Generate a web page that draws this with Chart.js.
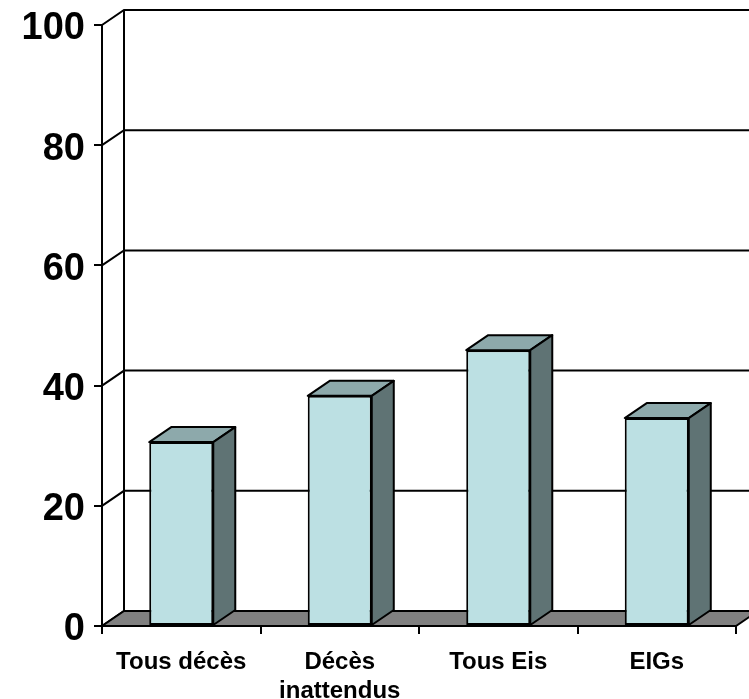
<!DOCTYPE html>
<html>
<head>
<meta charset="utf-8">
<script src="https://cdn.jsdelivr.net/npm/chart.js@4/dist/chart.umd.min.js"></script>
<style>
    body { margin: 0; background: #fff; }
</style>
</head>
<body>
<canvas id="myChart" width="749" height="699"></canvas>
<script>
let categories = [
    ['Tous décès'],
    ['Décès', 'inattendus'],
    ['Tous Eis'],
    ['EIGs']
];
let values = [30.6, 38.3, 45.9, 34.6];
let yTicks = [0, 20, 40, 60, 80, 100];

// depth of the fake 3d box
let depthX = 22;
let depthY = 15;

let frontColor = '#bce0e3';
let topColor = '#8da9ab';
let sideColor = '#5f7374';
let floorColor = '#808080';

function drawPoly(ctx, points, fill) {
    ctx.beginPath();
    ctx.moveTo(points[0][0], points[0][1]);
    for (let i = 1; i < points.length; i++) {
        ctx.lineTo(points[i][0], points[i][1]);
    }
    ctx.closePath();
    ctx.fillStyle = fill;
    ctx.fill();
    ctx.stroke();
}

let wallPlugin = {
    id: 'wall',
    beforeDatasetsDraw(chart) {
        let ctx = chart.ctx;
        let area = chart.chartArea;
        let yScale = chart.scales.y;
        ctx.save();
        ctx.strokeStyle = '#000';
        ctx.lineWidth = 2;

        // back wall gridlines + the little diagonals from the front axis
        for (let i = 0; i < yTicks.length; i++) {
            let py = yScale.getPixelForValue(yTicks[i]);
            ctx.beginPath();
            ctx.moveTo(area.left, py);
            ctx.lineTo(area.left + depthX, py - depthY);
            ctx.lineTo(area.right + depthX, py - depthY);
            ctx.stroke();
        }
        // back wall left edge
        ctx.beginPath();
        ctx.moveTo(area.left + depthX, yScale.getPixelForValue(0) - depthY);
        ctx.lineTo(area.left + depthX, yScale.getPixelForValue(100) - depthY);
        ctx.stroke();

        // floor
        let base = yScale.getPixelForValue(0);
        drawPoly(ctx, [
            [area.left, base],
            [area.right, base],
            [area.right + depthX, base - depthY],
            [area.left + depthX, base - depthY]
        ], floorColor);
        ctx.restore();
    },
    afterDatasetsDraw(chart) {
        let ctx = chart.ctx;
        let meta = chart.getDatasetMeta(0);
        ctx.save();
        ctx.strokeStyle = '#000';
        ctx.lineWidth = 2;
        ctx.lineJoin = 'round';
        meta.data.forEach(function(bar) {
            let p = bar.getProps(['x', 'y', 'base', 'width'], true);
            let left = p.x - p.width / 2;
            let right = p.x + p.width / 2;
            drawPoly(ctx, [
                [left, p.y],
                [right, p.y],
                [right + depthX, p.y - depthY],
                [left + depthX, p.y - depthY]
            ], topColor);
            drawPoly(ctx, [
                [right, p.y],
                [right + depthX, p.y - depthY],
                [right + depthX, p.base - depthY],
                [right, p.base]
            ], sideColor);
        });
        ctx.restore();
    }
};

let ctx = document.getElementById('myChart').getContext('2d');

new Chart(ctx, {
    type: 'bar',
    data: {
        labels: categories,
        datasets: [{
            data: values,
            backgroundColor: frontColor,
            borderColor: '#000',
            borderWidth: 2,
            borderSkipped: false,
            barPercentage: 0.404,
            categoryPercentage: 1
        }]
    },
    options: {
        responsive: false,
        animation: false,
        layout: {
            padding: { top: 25, right: 13, left: 0, bottom: 0 }
        },
        plugins: {
            legend: { display: false },
            tooltip: { enabled: false }
        },
        scales: {
            x: {
                afterFit(scale) { scale.height = 73; },
                grid: {
                    offset: true,
                    drawOnChartArea: false,
                    color: '#000',
                    lineWidth: 2,
                    tickLength: 8
                },
                border: { color: '#000', width: 2 },
                ticks: {
                    color: '#000',
                    padding: 14,
                    maxRotation: 0,
                    font: { family: '"Liberation Sans", Arial, sans-serif', size: 24, weight: 'bold' }
                }
            },
            y: {
                min: 0,
                max: 100,
                afterFit(scale) {
                    scale.width = 102;
                    scale.paddingTop = 0;
                    scale.paddingBottom = 0;
                },
                afterBuildTicks(scale) {
                    scale.ticks = yTicks.map(function(v) { return { value: v }; });
                },
                grid: {
                    drawOnChartArea: false,
                    color: '#000',
                    lineWidth: 2,
                    tickLength: 8
                },
                border: { color: '#000', width: 2 },
                ticks: {
                    color: '#000',
                    padding: 9,
                    labelOffset: 4,
                    font: { family: '"Liberation Sans", Arial, sans-serif', size: 38, weight: 'bold' }
                }
            }
        }
    },
    plugins: [wallPlugin]
});
</script>
</body>
</html>
